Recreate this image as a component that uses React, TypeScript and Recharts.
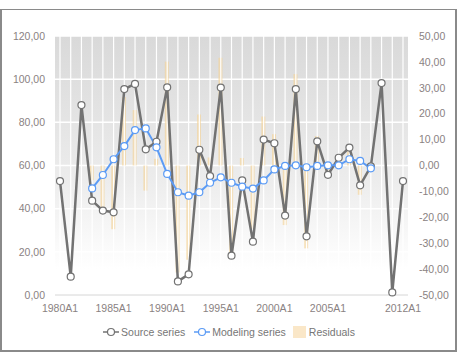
import React from 'react';
import {
  ComposedChart,
  Line,
  Bar,
  XAxis,
  YAxis,
  CartesianGrid,
  ReferenceLine,
  Legend,
} from 'recharts';

// values
const years = [
  1980, 1981, 1982, 1983, 1984, 1985, 1986, 1987, 1988, 1989, 1990,
  1991, 1992, 1993, 1994, 1995, 1996, 1997, 1998, 1999, 2000, 2001,
  2002, 2003, 2004, 2005, 2006, 2007, 2008, 2009, 2010, 2011, 2012,
];

const sourceSeries = [
  52.8, 8.5, 88.0, 43.7, 39.1, 38.3, 95.4, 97.8, 67.5, 71.0, 96.2,
  6.3, 9.6, 67.3, 55.1, 96.1, 18.2, 53.1, 24.7, 72.0, 70.3, 36.8,
  95.4, 27.2, 71.2, 55.7, 63.6, 68.3, 50.8, 59.6, 98.2, 1.2, 52.8,
];

const modelingSeries: (number | null)[] = [
  null, null, null, 49.4, 55.6, 62.9, 69.0, 76.4, 77.2, 68.4, 56.1,
  47.6, 46.0, 47.6, 52.0, 54.5, 52.0, 50.2, 49.3, 53.1, 58.2, 59.8,
  60.1, 59.2, 59.8, 60.1, 60.1, 62.9, 62.1, 58.7, null, null, null,
];

const residuals: (number | null)[] = [
  null, null, null, -5.7, -16.5, -24.6, 26.4, 21.4, -9.7, 2.6, 40.1,
  -41.3, -36.4, 19.7, 3.1, 41.6, -33.8, 2.9, -24.6, 18.9, 12.1, -23.0,
  35.3, -32.0, 11.4, -4.4, 3.5, 5.4, -11.3, 0.9, null, null, null,
];

const xTicks = [1980, 1985, 1990, 1995, 2000, 2005, 2012];
const leftTicks = [0, 20, 40, 60, 80, 100, 120];
const rightTicks = [-50, -40, -30, -20, -10, 0, 10, 20, 30, 40, 50];

const data = years.map((year, i) => ({
  year,
  source: sourceSeries[i],
  modeling: modelingSeries[i],
  residual: residuals[i],
}));

const fmt = (v: number) => v.toFixed(2).replace('.', ',');
const tickStyle = { fill: '#8a8282', fontSize: 10.5 };

const LegendContent = () => (
  <div
    style={{
      display: 'flex',
      justifyContent: 'center',
      alignItems: 'center',
      fontSize: 10.5,
      color: '#767676',
      fontFamily: '"Liberation Sans", Arial, sans-serif',
    }}
  >
    <svg width={16} height={12} style={{ marginRight: 2 }}>
      <line x1={0} y1={6} x2={16} y2={6} stroke="#727272" strokeWidth={1.5} />
      <circle cx={8} cy={6} r={3.5} fill="#fff" stroke="#727272" strokeWidth={1.2} />
    </svg>
    <span style={{ marginRight: 9 }}>Source series</span>
    <svg width={16} height={12} style={{ marginRight: 2 }}>
      <line x1={0} y1={6} x2={16} y2={6} stroke="#5b9bf5" strokeWidth={1.5} />
      <circle cx={8} cy={6} r={3.5} fill="#fff" stroke="#5b9bf5" strokeWidth={1.2} />
    </svg>
    <span style={{ marginRight: 7 }}>Modeling series</span>
    <svg width={13} height={12} style={{ marginRight: 3 }}>
      <rect x={0} y={0} width={13} height={12} fill="#f5d49a" fillOpacity={0.55} />
    </svg>
    <span>Residuals</span>
  </div>
);

export default function App() {
  return (
    <div style={{ position: 'absolute', left: 0, top: 0, width: 458, height: 363 }}>
      <div
        style={{
          position: 'absolute',
          left: 0,
          top: 9,
          width: 453,
          height: 340,
          border: '2px solid #8a8a8a',
          borderTopWidth: 1,
          background: '#fff',
        }}
      />
      <div style={{ position: 'absolute', left: 0, top: 0 }}>
        <ComposedChart
          width={458}
          height={363}
          data={data}
          margin={{ top: 36, right: 0, bottom: 38, left: 8 }}
          style={{ fontFamily: '"Liberation Sans", Arial, sans-serif' }}
        >
          <defs>
            <linearGradient id="plotBg" x1="0" y1="0" x2="0" y2="1">
              <stop offset="0%" stopColor="#d9d9d9" />
              <stop offset="55%" stopColor="#ececec" />
              <stop offset="90%" stopColor="#ffffff" />
            </linearGradient>
          </defs>
          <CartesianGrid vertical={false} stroke="#ffffff" strokeWidth={1.5} fill="url(#plotBg)" />
          {years.map((y) => (
            <ReferenceLine key={y} x={y} stroke="#ffffff" strokeWidth={1.2} />
          ))}
          <XAxis
            dataKey="year"
            type="number"
            domain={[1980, 2012]}
            ticks={xTicks}
            interval={0}
            padding={{ left: 5, right: 5 }}
            tickFormatter={(v: number) => `${v}A1`}
            tick={tickStyle}
            tickLine={false}
            axisLine={{ stroke: '#d6d6d6' }}
            tickMargin={4}
            height={30}
          />
          <YAxis
            domain={[0, 120]}
            ticks={leftTicks}
            tickFormatter={fmt}
            tick={tickStyle}
            tickLine={false}
            axisLine={false}
            tickMargin={4}
            width={47}
          />
          <YAxis
            yAxisId="right"
            orientation="right"
            domain={[-50, 50]}
            ticks={rightTicks}
            tickFormatter={fmt}
            tick={tickStyle}
            tickLine={false}
            axisLine={false}
            tickMargin={5}
            width={50}
          />
          <Bar
            yAxisId="right"
            dataKey="residual"
            name="Residuals"
            barSize={4}
            fill="#f5d49a"
            fillOpacity={0.65}
            isAnimationActive={false}
          />
          <Line
            type="linear"
            dataKey="source"
            name="Source series"
            stroke="#727272"
            strokeWidth={2.5}
            dot={{ r: 3.5, fill: '#ffffff', stroke: '#727272', strokeWidth: 1.2 }}
            activeDot={false}
            isAnimationActive={false}
          />
          <Line
            type="linear"
            dataKey="modeling"
            name="Modeling series"
            stroke="#5b9bf5"
            strokeWidth={2}
            dot={{ r: 3.5, fill: '#ffffff', stroke: '#5b9bf5', strokeWidth: 1.2 }}
            activeDot={false}
            connectNulls={false}
            isAnimationActive={false}
          />
          <Legend
            layout="vertical"
            verticalAlign="middle"
            align="center"
            content={<LegendContent />}
            wrapperStyle={{ position: 'absolute', top: 326, left: 0, width: 458, height: 16 }}
          />
        </ComposedChart>
      </div>
    </div>
  );
}
